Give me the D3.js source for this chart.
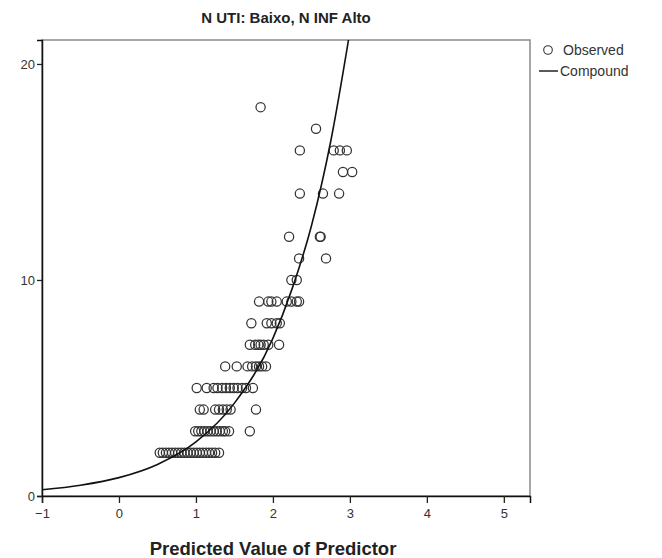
<!DOCTYPE html>
<html>
<head>
<meta charset="utf-8">
<script src="https://cdn.jsdelivr.net/npm/d3@7"></script>
<style>
  body { margin: 0; background: #fff; }
  svg { font-family: Arial, "Liberation Sans", sans-serif; }
</style>
</head>
<body>
<svg id="chart" width="662" height="558"></svg>
<script>
// observed points: each row is one integer count and the predicted values where circles sit
var rowCounts = [2, 3, 4, 5, 6, 7, 8, 9, 10, 11, 12, 14, 15, 16, 17, 18];
var rowPredicted = [
  [0.53, 0.57, 0.61, 0.65, 0.69, 0.73, 0.77, 0.81, 0.85, 0.89, 0.93, 0.97, 1.01, 1.05, 1.09, 1.13, 1.17, 1.21, 1.25, 1.30],
  [0.99, 1.03, 1.07, 1.11, 1.15, 1.19, 1.23, 1.27, 1.31, 1.35, 1.38, 1.43, 1.70],
  [1.05, 1.10, 1.25, 1.30, 1.35, 1.40, 1.45, 1.78],
  [1.01, 1.14, 1.23, 1.28, 1.34, 1.39, 1.44, 1.49, 1.54, 1.60, 1.65, 1.74],
  [1.38, 1.53, 1.67, 1.73, 1.78, 1.82, 1.86, 1.91],
  [1.70, 1.77, 1.81, 1.84, 1.88, 1.94, 2.08],
  [1.72, 1.92, 1.98, 2.05, 2.09],
  [1.82, 1.94, 1.98, 2.05, 2.18, 2.24, 2.31, 2.34],
  [2.24, 2.31],
  [2.34, 2.69],
  [2.21, 2.61, 2.62],
  [2.35, 2.65, 2.86],
  [2.91, 3.03],
  [2.35, 2.79, 2.87, 2.96],
  [2.56],
  [1.84]
];

// compound fit line
var curveX = [-1, -0.5, 0, 0.5, 1, 1.5, 2, 2.25, 2.5, 2.75, 3.0];
var curveY = [0.29, 0.5, 0.85, 1.46, 2.5, 4.3, 7.3, 9.6, 12.5, 16.4, 21.5];

var xTicks = [-1, 0, 1, 2, 3, 4, 5];
var yTicks = [0, 10, 20];

var chartTitle = "N UTI: Baixo, N INF Alto";
var xTitle = "Predicted Value of Predictor";
var legendLabels = ["Observed", "Compound"];

var svg = d3.select("#chart");
var plotLeft = 42, plotRight = 530, plotTop = 40, plotBottom = 496;

var x = d3.scaleLinear().domain([-1, 5.34]).range([plotLeft, plotRight]);
var y = d3.scaleLinear().domain([0, 21.11]).range([plotBottom, plotTop]);

// frame
svg.append("rect")
  .attr("x", plotLeft).attr("y", plotTop)
  .attr("width", plotRight - plotLeft).attr("height", plotBottom - plotTop)
  .attr("fill", "none").attr("stroke", "#8a8a8a").attr("stroke-width", 1.5);

svg.append("defs").append("clipPath").attr("id", "plot")
  .append("rect")
  .attr("x", plotLeft).attr("y", plotTop)
  .attr("width", plotRight - plotLeft).attr("height", plotBottom - plotTop);

// points
var pts = [];
rowCounts.forEach(function(c, i) {
  rowPredicted[i].forEach(function(p) { pts.push({ p: p, c: c }); });
});

svg.append("g")
  .selectAll("circle")
  .data(pts)
  .join("circle")
  .attr("cx", function(d) { return x(d.p); })
  .attr("cy", function(d) { return y(d.c); })
  .attr("r", 4.6)
  .attr("fill", "none")
  .attr("stroke", "#333")
  .attr("stroke-width", 1.25);

// fit line
var line = d3.line()
  .x(function(d, i) { return x(curveX[i]); })
  .y(function(d) { return y(d); })
  .curve(d3.curveMonotoneX);

svg.append("path")
  .datum(curveY)
  .attr("clip-path", "url(#plot)")
  .attr("d", line)
  .attr("fill", "none")
  .attr("stroke", "#111")
  .attr("stroke-width", 1.6);

// axes
var xAxis = svg.append("g")
  .attr("transform", "translate(0," + plotBottom + ")")
  .call(d3.axisBottom(x).tickValues(xTicks).tickSize(7).tickPadding(6).tickFormat(d3.format("d")));
var yAxis = svg.append("g")
  .attr("transform", "translate(" + plotLeft + ",0)")
  .call(d3.axisLeft(y).tickValues(yTicks).tickSize(5).tickPadding(2).tickFormat(d3.format("d")));

[xAxis, yAxis].forEach(function(a) {
  a.select(".domain").attr("stroke", "#111").attr("stroke-width", 1.5);
  a.selectAll(".tick line").attr("stroke", "#222").attr("stroke-width", 1.3);
  a.selectAll(".tick text").attr("font-size", 13).attr("fill", "#333")
    .attr("font-family", "Arial, 'Liberation Sans', sans-serif");
});

// titles
svg.append("text")
  .attr("x", 286).attr("y", 23)
  .attr("text-anchor", "middle")
  .attr("font-size", 15).attr("font-weight", "bold").attr("fill", "#222")
  .text(chartTitle);

svg.append("text")
  .attr("x", 273).attr("y", 555)
  .attr("text-anchor", "middle")
  .attr("font-size", 18.5).attr("font-weight", "bold").attr("fill", "#222")
  .text(xTitle);

// legend
var lg = svg.append("g").attr("font-size", 14).attr("fill", "#333");
lg.append("circle").attr("cx", 548).attr("cy", 50).attr("r", 4.3)
  .attr("fill", "none").attr("stroke", "#333").attr("stroke-width", 1.1);
lg.append("text").attr("x", 563).attr("y", 55).text(legendLabels[0]);
lg.append("line").attr("x1", 539).attr("x2", 558).attr("y1", 71).attr("y2", 71)
  .attr("stroke", "#222").attr("stroke-width", 1.5);
lg.append("text").attr("x", 560).attr("y", 76).text(legendLabels[1]);
</script>
</body>
</html>
